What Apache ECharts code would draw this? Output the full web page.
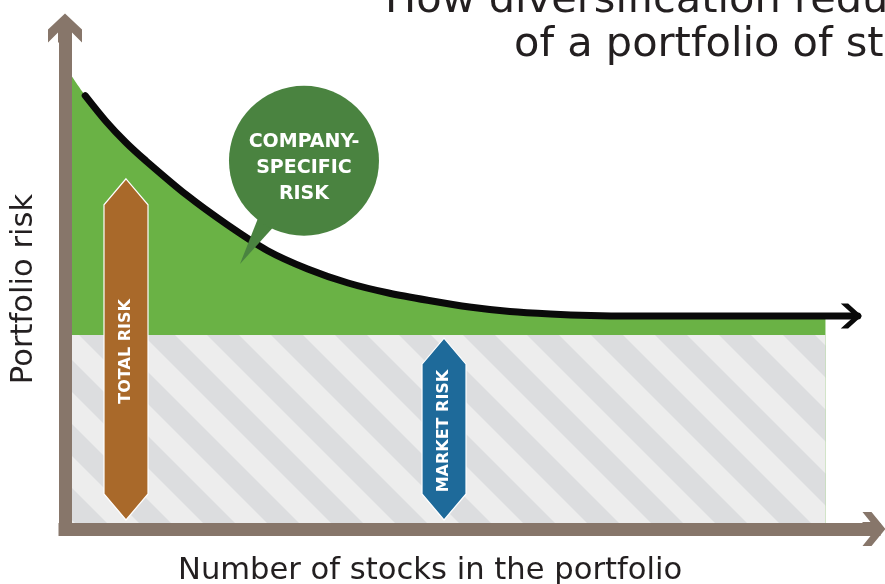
<!DOCTYPE html>
<html>
<head>
<meta charset="utf-8">
<script src="https://cdn.jsdelivr.net/npm/echarts@6/dist/echarts.min.js"></script>
<style>
html, body { margin: 0; padding: 0; background: #fff; }
#chart { width: 885px; height: 584px; }
</style>
</head>
<body>
<div id="chart"></div>
<script>
// number of stocks (x, 0-100) against portfolio risk (y, 0-100)
var stocks = [0, 2.5, 5, 7.5, 10, 15, 20, 25, 30, 35, 40, 45, 50, 55, 60, 65, 70, 80, 94];
var totalRisk = [92.4, 86.5, 81.5, 77.2, 73.5, 66.7, 60.8, 55.6, 51.9, 49.1, 47.1, 45.6, 44.3, 43.4, 42.9, 42.6, 42.5, 42.5, 42.5];
var marketRisk = 38.7;
var marketEnd = 94;
var curveEnd = [98, 42.5];
var curveArrow = [97.2, 42.5];

// the two vertical arrows
var riskLabels = ['TOTAL RISK', 'MARKET RISK'];
var riskAt = [7.54, 46.85];
var riskLow = [1.8, 1.8];
var riskHigh = [69.9, 38.1];
var riskColors = ['#a9692a', '#1e6a9a'];

// speech bubble
var bubbleText = 'COMPANY-\nSPECIFIC\nRISK';
var bubbleAt = [29.54, 73.5];
var bubbleTip = [21.63, 52.9];

var axisColor = '#87766a';
var font = '"DejaVu Sans", sans-serif';

var upArrowY = 'path://M17 0 L34 16 L34 29 L24 19 L24 29 L10 29 L10 19 L0 29 L0 16 Z';
var upArrowX = 'path://M17 0 L34 14 L34 23 L24 15 L24 23 L10 23 L10 15 L0 23 L0 14 Z';
var chevron = 'path://M0 0 L8 0 L23 12.5 L8 25 L0 25 L15 12.5 Z';

function stripes() {
    var c = document.createElement('canvas');
    c.width = 64; c.height = 64;
    var g = c.getContext('2d');
    g.fillStyle = '#ededed';
    g.fillRect(0, 0, 64, 64);
    g.fillStyle = '#dcdddf';
    g.beginPath(); g.moveTo(0, 0); g.lineTo(32, 0); g.lineTo(64, 32); g.lineTo(64, 64); g.closePath(); g.fill();
    g.beginPath(); g.moveTo(0, 32); g.lineTo(32, 64); g.lineTo(0, 64); g.closePath(); g.fill();
    return c;
}

var greenData = stocks.map(function (x, i) { return [x, totalRisk[i]]; });
var lineData = greenData.slice(1).concat([curveEnd]);

var chart = echarts.init(document.getElementById('chart'), null, { renderer: 'canvas' });

var option = {
    animation: false,
    grid: { left: 65, right: 11, top: 28, bottom: 55 },
    xAxis: {
        type: 'value', min: 0, max: 100, z: 10,
        axisLine: {
            show: true, onZero: false,
            symbol: ['none', upArrowX], symbolSize: [34, 23],
            lineStyle: { color: axisColor, width: 13, cap: 'square' }
        },
        axisTick: { show: false }, axisLabel: { show: false }, splitLine: { show: false }
    },
    yAxis: {
        type: 'value', min: 0, max: 100, z: 10,
        axisLine: {
            show: true, onZero: false,
            symbol: ['none', upArrowY], symbolSize: [34, 29],
            lineStyle: { color: axisColor, width: 13, cap: 'square' }
        },
        axisTick: { show: false }, axisLabel: { show: false }, splitLine: { show: false }
    },
    graphic: [
        { type: 'text', x: 385, y: 1.5, style: { text: 'How diversification reduces the risk', font: '41.5px ' + font, fill: '#231f20', align: 'left', verticalAlign: 'middle' } },
        { type: 'text', x: 514, y: 45, style: { text: 'of a portfolio of stocks', font: '41.5px ' + font, fill: '#231f20', align: 'left', verticalAlign: 'middle' } },
        { type: 'text', x: 178, y: 571.5, style: { text: 'Number of stocks in the portfolio', font: '30.6px ' + font, fill: '#231f20', align: 'left', verticalAlign: 'middle' } },
        { type: 'text', x: 24.5, y: 289, rotation: Math.PI / 2, style: { text: 'Portfolio risk', font: '30.6px ' + font, fill: '#231f20', align: 'center', verticalAlign: 'middle' } }
    ],
    series: [
        {
            name: 'Company-specific risk',
            type: 'line',
            data: greenData,
            smooth: 0.3,
            symbol: 'none',
            lineStyle: { width: 0 },
            areaStyle: { color: '#6ab245', opacity: 1 },
            silent: true
        },
        {
            name: 'Market risk',
            type: 'line',
            data: [[0, marketRisk], [marketEnd, marketRisk]],
            symbol: 'none',
            lineStyle: { width: 0 },
            areaStyle: { color: { image: stripes(), repeat: 'repeat' }, opacity: 1 },
            silent: true
        },
        {
            name: 'Total risk',
            type: 'line',
            data: lineData,
            smooth: 0.3,
            symbol: 'none',
            lineStyle: { color: '#0a0a0a', width: 7, cap: 'round' },
            markPoint: {
                symbol: chevron,
                symbolSize: [23, 25],
                symbolKeepAspect: true,
                itemStyle: { color: '#0a0a0a' },
                label: { show: false },
                silent: true,
                data: [{ coord: curveArrow }]
            },
            silent: true
        },
        {
            type: 'custom',
            z: 4,
            data: riskAt.map(function (x, i) { return [x, riskLow[i], riskHigh[i]]; }),
            encode: { x: 0, y: [1, 2] },
            silent: true,
            renderItem: function (params, api) {
                var top = api.coord([api.value(0), api.value(2)]);
                var bot = api.coord([api.value(0), api.value(1)]);
                var i = params.dataIndex;
                var cx = top[0], w = 22, s = 26;
                return {
                    type: 'group',
                    children: [
                        {
                            type: 'polygon',
                            shape: { points: [[cx, top[1]], [cx + w, top[1] + s], [cx + w, bot[1] - s], [cx, bot[1]], [cx - w, bot[1] - s], [cx - w, top[1] + s]] },
                            style: { fill: riskColors[i], stroke: '#fff', lineWidth: 1.2 }
                        },
                        {
                            type: 'text',
                            x: cx, y: (top[1] + bot[1]) / 2 + 2,
                            rotation: Math.PI / 2,
                            style: { text: riskLabels[i], fill: '#fff', font: 'bold 16px ' + font, align: 'center', verticalAlign: 'middle' }
                        }
                    ]
                };
            }
        },
        {
            type: 'custom',
            z: 4,
            data: [[bubbleAt[0], bubbleAt[1], bubbleTip[0], bubbleTip[1]]],
            encode: { x: [0, 2], y: [1, 3] },
            silent: true,
            renderItem: function (params, api) {
                var c = api.coord([api.value(0), api.value(1)]);
                var t = api.coord([api.value(2), api.value(3)]);
                var r = 75;
                var a = Math.atan2(t[1] - c[1], t[0] - c[0]);
                var b1 = [c[0] + (r - 6) * Math.cos(a - 0.14), c[1] + (r - 6) * Math.sin(a - 0.14)];
                var b2 = [c[0] + (r - 6) * Math.cos(a + 0.14), c[1] + (r - 6) * Math.sin(a + 0.14)];
                return {
                    type: 'group',
                    children: [
                        { type: 'polygon', shape: { points: [b1, t, b2] }, style: { fill: '#4a8340' } },
                        { type: 'circle', shape: { cx: c[0], cy: c[1], r: r }, style: { fill: '#4a8340' } },
                        {
                            type: 'text', x: c[0], y: c[1] + 7,
                            style: { text: bubbleText, fill: '#fff', font: 'bold 19px ' + font, lineHeight: 26, align: 'center', verticalAlign: 'middle' }
                        }
                    ]
                };
            }
        }
    ]
};

chart.setOption(option);
</script>
</body>
</html>
